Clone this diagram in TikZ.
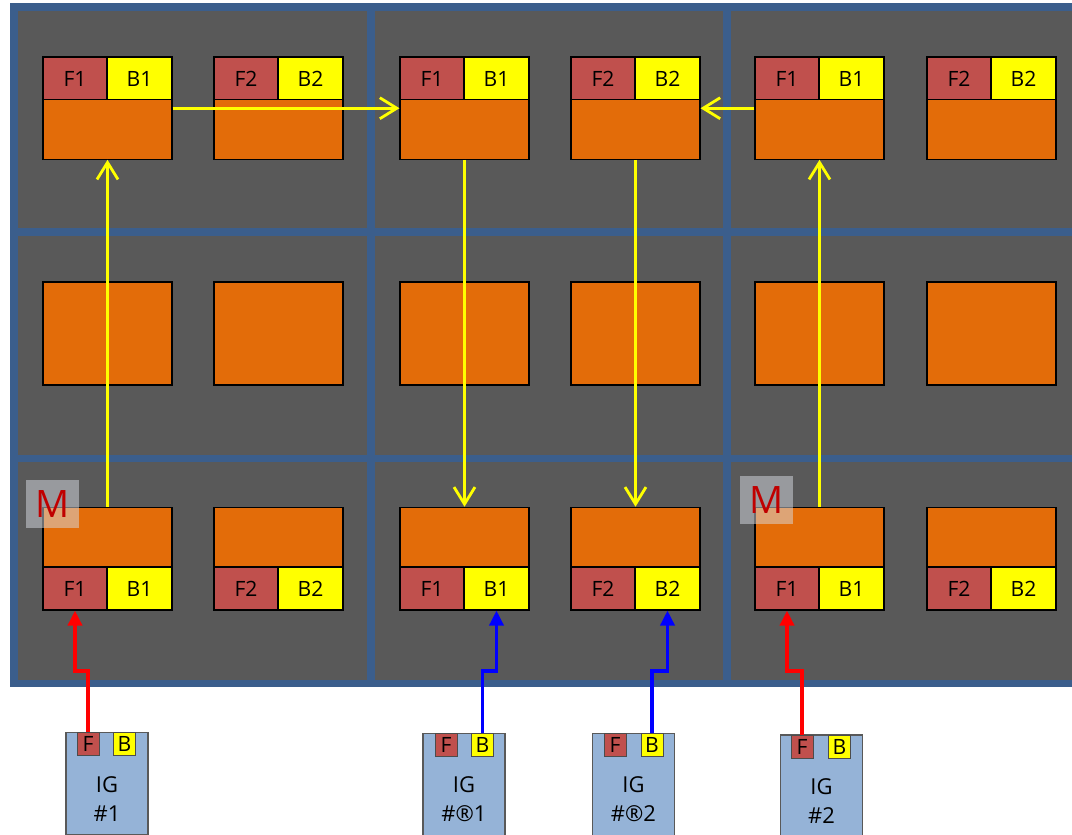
\documentclass[tikz,border=0pt]{standalone}
\usepackage{fontspec}
\setmainfont{Open Sans}
\usetikzlibrary{arrows.meta,calc}

\definecolor{panelgray}{HTML}{595959}
\definecolor{panelblue}{HTML}{3B5E8C}
\definecolor{fred}{HTML}{C0504D}
\definecolor{byellow}{HTML}{FFFF00}
\definecolor{corange}{HTML}{E36C09}
\definecolor{igblue}{HTML}{95B3D7}
\definecolor{markred}{HTML}{C00000}
\definecolor{markfill}{HTML}{D8DCE4}

\begin{document}
\begin{tikzpicture}[x=0.02cm, y=-0.02cm, font=\fontsize{12}{14}\selectfont,
    fcell/.style={draw=black, line width=0.6pt, fill=fred, inner sep=0pt,
      minimum width=1.28cm, minimum height=0.86cm},
    bcell/.style={fcell, fill=byellow, minimum width=1.3cm},
    body/.style={draw=black, line width=0.6pt, fill=corange, inner sep=0pt,
      minimum width=2.58cm, minimum height=1.19cm},
    midbody/.style={body, minimum height=2.06cm},
    igbox/.style={draw=black!65, line width=0.9pt, fill=igblue, inner sep=0pt,
      minimum width=1.64cm, minimum height=2.04cm},
    igport/.style={draw=black!70, line width=0.5pt, inner sep=0pt,
      minimum width=0.44cm, minimum height=0.46cm, font=\fontsize{12}{13}\selectfont},
    iglab/.style={align=center, font=\fontsize{12.5}{16.5}\selectfont},
    mastermark/.style={fill=markfill, fill opacity=0.5, text opacity=1, text=markred,
      inner sep=0pt, minimum width=1.06cm, minimum height=0.96cm,
      font=\fontsize{21.5}{24}\selectfont},
    grid line/.style={draw=panelblue, line width=4.2pt},
    link/.style={draw=byellow, line width=1.6pt,
      -{Straight Barb[length=0.34cm, width=0.42cm]}},
    feedF/.style={draw=red, line width=2pt,
      -{Triangle[length=0.3cm, width=0.28cm]}},
    feedB/.style={feedF, draw=blue}]

  \clip (0,0) rectangle (1072,835);

% ---------------- the chassis: three slots, three rows each
  \fill[panelgray] (14,7) rectangle (1085,683.5);
  \draw[grid line] (14,7) rectangle (1085,683.5);
  \draw[grid line] (371,7) -- (371,683.5);
  \draw[grid line] (727,7) -- (727,683.5);
  \draw[grid line] (14,232) -- (1085,232);
  \draw[grid line] (14,458.5) -- (1085,458.5);

% ---------------- top row: ports above the card
  \node[fcell] (topF1) at (75,78.5) {F1};
  \node[bcell] (topB1) at (139.5,78.5) {B1};
  \node[body]  (top1)  at (107.5,129.5) {};
  \node[fcell] (topF2) at (246,78.5) {F2};
  \node[bcell] (topB2) at (310.5,78.5) {B2};
  \node[body]  (top2)  at (278.5,129.5) {};
  \node[fcell] (topF3) at (432,78.5) {F1};
  \node[bcell] (topB3) at (496.5,78.5) {B1};
  \node[body]  (top3)  at (464.5,129.5) {};
  \node[fcell] (topF4) at (603,78.5) {F2};
  \node[bcell] (topB4) at (667.5,78.5) {B2};
  \node[body]  (top4)  at (635.5,129.5) {};
  \node[fcell] (topF5) at (787,78.5) {F1};
  \node[bcell] (topB5) at (851.5,78.5) {B1};
  \node[body]  (top5)  at (819.5,129.5) {};
  \node[fcell] (topF6) at (959,78.5) {F2};
  \node[bcell] (topB6) at (1023.5,78.5) {B2};
  \node[body]  (top6)  at (991.5,129.5) {};

% ---------------- middle row: plain cards
  \node[midbody] (mid1) at (107.5,333.5) {};
  \node[midbody] (mid2) at (278.5,333.5) {};
  \node[midbody] (mid3) at (464.5,333.5) {};
  \node[midbody] (mid4) at (635.5,333.5) {};
  \node[midbody] (mid5) at (819.5,333.5) {};
  \node[midbody] (mid6) at (991.5,333.5) {};

% ---------------- bottom row: ports below the card
  \node[body]  (bot1)  at (107.5,537) {};
  \node[fcell] (botF1) at (75,588.5) {F1};
  \node[bcell] (botB1) at (139.5,588.5) {B1};
  \node[body]  (bot2)  at (278.5,537) {};
  \node[fcell] (botF2) at (246,588.5) {F2};
  \node[bcell] (botB2) at (310.5,588.5) {B2};
  \node[body]  (bot3)  at (464.5,537) {};
  \node[fcell] (botF3) at (432,588.5) {F1};
  \node[bcell] (botB3) at (496.5,588.5) {B1};
  \node[body]  (bot4)  at (635.5,537) {};
  \node[fcell] (botF4) at (603,588.5) {F2};
  \node[bcell] (botB4) at (667.5,588.5) {B2};
  \node[body]  (bot5)  at (819.5,537) {};
  \node[fcell] (botF5) at (787,588.5) {F1};
  \node[bcell] (botB5) at (851.5,588.5) {B1};
  \node[body]  (bot6)  at (991.5,537) {};
  \node[fcell] (botF6) at (959,588.5) {F2};
  \node[bcell] (botB6) at (1023.5,588.5) {B2};

% ---------------- master marks
  \node[mastermark] (mark1) at (52.5,504) {M};
  \node[mastermark] (mark2) at (766.5,500) {M};

% ---------------- yellow links between the cards
  \draw[link] ($(top1.north east)+(0,9)$) -- ($(top3.north west)+(0,9)$);
  \draw[link] ($(top5.north west)+(0,9)$) -- ($(top4.north east)+(0,9)$);
  \draw[link] (bot1.north) -- (top1.south);
  \draw[link] (bot5.north) -- (top5.south);
  \draw[link] (top3.south) -- (bot3.north);
  \draw[link] (top4.south) -- (bot4.north);

% ---------------- the IG units under the chassis
  \node[igbox] (ig1) at (107,783.5) {};
  \node[igport, fill=fred]    (igF1) at (88,743.5) {F};
  \node[igport, fill=byellow] (igB1) at (124.5,743.5) {B};
  \node[iglab] (igl1) at (107,799) {IG\\\#1};

  \node[igbox] (ig2) at (464,784.5) {};
  \node[igport, fill=fred]    (igF2) at (446,745) {F};
  \node[igport, fill=byellow] (igB2) at (482.5,745) {B};
  \node[iglab] (igl2) at (464,799) {IG\\\#®1};

  \node[igbox] (ig3) at (633.5,784.5) {};
  \node[igport, fill=fred]    (igF3) at (615,745) {F};
  \node[igport, fill=byellow] (igB3) at (652,745) {B};
  \node[iglab] (igl3) at (633.5,799) {IG\\\#®2};

  \node[igbox] (ig4) at (821.5,786) {};
  \node[igport, fill=fred]    (igF4) at (802,746.5) {F};
  \node[igport, fill=byellow] (igB4) at (839.5,746.5) {B};
  \node[iglab] (igl4) at (821.5,801) {IG\\\#2};

% ---------------- feeds from the IG units into the bottom ports
  \draw[feedF] (igF1.north) -- (igF1.north |- 0,671) -| (botF1.south);
  \draw[feedB] (igB2.north) -- (igB2.north |- 0,671) -| (botB3.south);
  \draw[feedB] (igB3.north) -- (igB3.north |- 0,671) -| (botB4.south);
  \draw[feedF] (igF4.north) -- (igF4.north |- 0,671) -| (botF5.south);
\end{tikzpicture}
\end{document}
